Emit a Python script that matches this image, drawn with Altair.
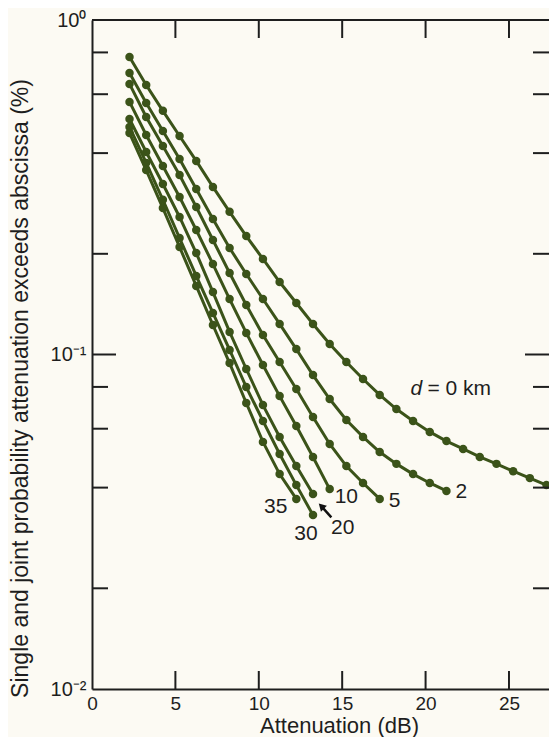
import altair as alt
import pandas as pd

# ---- data ----
ATTEN = [2.25, 3.25, 4.25, 5.25, 6.25, 7.25, 8.25, 9.25, 10.25, 11.25, 12.25, 13.25, 14.25,
         15.25, 16.25, 17.25, 18.25, 19.25, 20.25, 21.25, 22.25, 23.25, 24.25, 25.25, 26.25, 27.25]

P_D0 = [0.775, 0.639, 0.535, 0.450, 0.379, 0.317, 0.267, 0.226, 0.193, 0.1647, 0.1426, 0.1234, 0.1075,
        0.0950, 0.0845, 0.0757, 0.0687, 0.0633, 0.0587, 0.0551, 0.0522, 0.0494, 0.0471, 0.0448, 0.0427, 0.0407]
P_D2 = [0.694, 0.565, 0.466, 0.384, 0.3125, 0.2542, 0.2082, 0.1740, 0.1465, 0.1234, 0.1038, 0.0868, 0.0736,
        0.0637, 0.0567, 0.0511, 0.0471, 0.0439, 0.0413, 0.0391]
P_D5 = [0.644, 0.513, 0.420, 0.344, 0.276, 0.220, 0.1752, 0.1406, 0.1144, 0.0950, 0.0789, 0.0650, 0.0540,
        0.0464, 0.0413, 0.0370]
P_D10 = [0.569, 0.453, 0.366, 0.2957, 0.2356, 0.1864, 0.1465, 0.1160, 0.0930, 0.0751, 0.0611, 0.0494, 0.0396]
P_D20 = [0.506, 0.403, 0.3234, 0.2577, 0.2011, 0.1537, 0.1168, 0.0905, 0.0706, 0.0567, 0.0464, 0.0383]
P_D30 = [0.479, 0.374, 0.290, 0.223, 0.1717, 0.1331, 0.1032, 0.0799, 0.0633, 0.0504, 0.0407, 0.0331]
P_D35 = [0.459, 0.356, 0.274, 0.2096, 0.1603, 0.1225, 0.0943, 0.0716, 0.0548, 0.0439, 0.0370]

SERIES = ["0", "2", "5", "10", "20", "30", "35"]
VALUES = [P_D0, P_D2, P_D5, P_D10, P_D20, P_D30, P_D35]

X_TICKS = [0, 5, 10, 15, 20, 25]
INNER_X_TICKS = [5, 10, 15, 20, 25]
Y_TICKS = [0.01, 0.1, 1]
Y_MINOR = [0.8, 0.6, 0.4, 0.2, 0.08, 0.06, 0.04, 0.02]
Y_MAJOR = [0.1]

# label text for each curve end: (series, text, dx, dy, align)
END_LABELS = [("2", "2", 9, 1, "left"), ("5", "5", 9, 2, "left"), ("10", "10", 5, 8, "left"),
              ("20", "20", 18, 34, "left"), ("30", "30", -7, 19, "center"), ("35", "35", -9, 8, "right")]
ARROW_ATT = [14.35, 13.75]
ARROW_P = [0.0326, 0.0352]

GREEN = "#3b5319"
INK = "#1e1e1e"
BG = "#fcfaf3"
FONT = "Liberation Sans"

rows = []
for name, vals in zip(SERIES, VALUES):
    for x, p in zip(ATTEN, vals):
        rows.append({"d": name, "att": x, "p": p})
df = pd.DataFrame(rows)

W, H = 457, 669
xs = alt.Scale(domain=[0, 27.4], nice=False, zero=False)
ys = alt.Scale(type="log", domain=[0.01, 1], nice=False)

xaxis = alt.Axis(values=X_TICKS, ticks=False, grid=False, domain=True, domainWidth=2, domainColor=INK,
                 labelFontSize=19, labelFont=FONT, labelColor=INK, labelPadding=5, labelFlush=False,
                 title="Attenuation (dB)", titleFont=FONT, titleFontSize=22, titleFontWeight="normal",
                 titleColor=INK, titleX=247, titleY=43, titleBaseline="alphabetic")
yaxis = alt.Axis(values=Y_TICKS, ticks=False, grid=False, domain=True, domainWidth=2, domainColor=INK,
                 labelFontSize=20, labelFont=FONT, labelColor=INK, labelPadding=6,
                 labelExpr="datum.value >= 0.5 ? '10⁰' : (datum.value >= 0.05 ? '10⁻¹' : '10⁻²')",
                 title="Single and joint probability attenuation exceeds abscissa (%)",
                 titleFont=FONT, titleFontSize=23, titleFontWeight="normal", titleColor=INK,
                 titleX=-72, titleY=368, titleAlign="center", titleBaseline="middle", titleAngle=270)

X = alt.X("att:Q", scale=xs)
Y = alt.Y("p:Q", scale=ys)

base = alt.Chart(df)
lines = base.mark_line(color=GREEN, strokeWidth=3).encode(
    x=alt.X("att:Q", scale=xs, axis=xaxis),
    y=alt.Y("p:Q", scale=ys, axis=yaxis),
    detail="d:N", order="att:Q")
points = base.mark_circle(color=GREEN, size=72, opacity=1).encode(x=X, y=Y)

tx = pd.DataFrame({"att": INNER_X_TICKS})
bottom_ticks = alt.Chart(tx).mark_rule(color=INK, strokeWidth=2).encode(
    x=X, y=alt.value(H), y2=alt.value(H - 18))
top_ticks = alt.Chart(tx).mark_rule(color=INK, strokeWidth=2).encode(
    x=X, y=alt.value(0), y2=alt.value(18))

tmin = pd.DataFrame({"p": Y_MINOR})
tmaj = pd.DataFrame({"p": Y_MAJOR})
left_minor = alt.Chart(tmin).mark_rule(color=INK, strokeWidth=2).encode(
    y=Y, x=alt.value(0), x2=alt.value(16))
left_major = alt.Chart(tmaj).mark_rule(color=INK, strokeWidth=2).encode(
    y=Y, x=alt.value(0), x2=alt.value(24))
right_minor = alt.Chart(tmin).mark_rule(color=INK, strokeWidth=2).encode(
    y=Y, x=alt.value(W), x2=alt.value(W - 16))
right_major = alt.Chart(tmaj).mark_rule(color=INK, strokeWidth=2).encode(
    y=Y, x=alt.value(W), x2=alt.value(W - 24))
top_border = alt.Chart(tx).mark_rule(color=INK, strokeWidth=2).encode(
    x=alt.value(0), x2=alt.value(W), y=alt.value(0))

layers = [lines, points, bottom_ticks, top_ticks, left_minor, left_major, right_minor, right_major, top_border]

ends = df.groupby("d").tail(1).set_index("d")
for sname, text, dx, dy, align in END_LABELS:
    e = ends.loc[sname]
    ld = pd.DataFrame({"att": [e["att"]], "p": [e["p"]], "t": [text]})
    layers.append(alt.Chart(ld).mark_text(font=FONT, fontSize=21, color=INK, dx=dx, dy=dy, align=align,
                                          baseline="middle").encode(x=X, y=Y, text="t:N"))

# "d = 0 km" anchored on the d = 0 curve
anchor = df[(df["d"] == "0")].iloc[[16]].copy()
anchor["t1"] = "d"
anchor["t2"] = "= 0 km"
layers.append(alt.Chart(anchor).mark_text(font=FONT, fontSize=21, fontStyle="italic", color=INK, dx=14, dy=-20,
                                          align="left", baseline="middle").encode(x=X, y=Y, text="t1:N"))
layers.append(alt.Chart(anchor).mark_text(font=FONT, fontSize=21, color=INK, dx=31, dy=-20,
                                          align="left", baseline="middle").encode(x=X, y=Y, text="t2:N"))

arrow = pd.DataFrame({"att": [ARROW_ATT[0]], "p": [ARROW_P[0]], "att2": [ARROW_ATT[1]], "p2": [ARROW_P[1]]})
layers.append(alt.Chart(arrow).mark_rule(color="#111", strokeWidth=2.5).encode(
    x=X, y=Y, x2="att2:Q", y2="p2:Q"))
head = pd.DataFrame({"att": [ARROW_ATT[1]], "p": [ARROW_P[1]]})
layers.append(alt.Chart(head).mark_point(shape="triangle-up", filled=True, color="#111", size=70, angle=315,
                                         opacity=1).encode(x=X, y=Y))

chart = alt.layer(*layers).properties(
    width=W, height=H, background=BG,
    padding={"left": 84, "top": 12, "right": 0, "bottom": 48},
    autosize=alt.AutoSizeParams(type="none"),
).configure_view(stroke=None, fill=BG)

chart.save("out.html", embed_options={"renderer": "svg", "actions": False})
